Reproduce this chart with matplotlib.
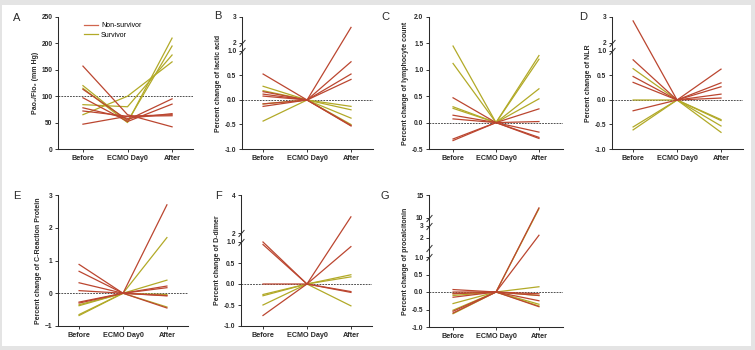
import numpy as np
import matplotlib
matplotlib.use("Agg")
import matplotlib.pyplot as plt
from matplotlib.patches import Rectangle
from matplotlib.lines import Line2D
import matplotlib.transforms as mtransforms

plt.rcParams['font.family'] = ['Liberation Sans', 'DejaVu Sans']

# Time points
timepoints = ["Before", "ECMO Day0", "After"]

# Panel A: PaO2/FiO2 (mm Hg), one row per patient (before, ECMO day0, after)
a_nonsurv = [[157, 65, 42], [113, 55, 95], [97, 52, 85],
             [78, 58, 67], [72, 62, 63], [47, 62, 65]]
a_surv = [[65, 100, 165], [120, 52, 195], [115, 50, 210], [84, 80, 178]]

# Panels B-G: percent change, value at ECMO day0 is 0
b_nonsurv_before = [0.53, 0.17, 0.12, 0.08, -0.08, -0.13]
b_nonsurv_after = [2.6, 0.78, 0.53, 0.42, -0.52, -0.53]
b_surv_before = [0.28, 0.19, -0.08, -0.43]
b_surv_after = [-0.13, -0.2, -0.37, -0.5]

c_nonsurv_before = [0.47, 0.14, 0.07, -0.31, -0.34]
c_nonsurv_after = [0.26, -0.18, -0.30, -0.28, 0.02]
c_surv_before = [1.45, 1.12, 0.30, 0.27]
c_surv_after = [1.27, 1.20, 0.64, 0.45]

d_nonsurv_before = [2.85, 0.82, 0.48, 0.36, -0.22]
d_nonsurv_after = [0.63, 0.35, 0.27, 0.12, 0.04]
d_surv_before = [0.64, 0.0, -0.55, -0.61]
d_surv_after = [-0.40, -0.42, -0.53, -0.66]

e_nonsurv_before = [0.88, 0.67, 0.32, 0.08, -0.27, -0.30]
e_nonsurv_after = [2.7, 0.22, 0.17, -0.07, -0.08, -0.45]
e_surv_before = [-0.35, -0.38, -0.65, -0.68]
e_surv_after = [1.7, 0.4, -0.04, -0.42]

f_nonsurv_before = [1.0, 0.94, 0.0, -0.75]
f_nonsurv_after = [2.85, 0.89, -0.18, -0.2]
f_surv_before = [-0.25, -0.28, -0.5]
f_surv_after = [0.22, 0.17, -0.52]

g_nonsurv_before = [0.07, -0.05, -0.15, -0.55, -0.60, 0.0]
g_nonsurv_after = [12.2, 2.2, -0.05, -0.25, -0.42, -0.1]
g_surv_before = [-0.05, -0.33, -0.52, -0.62, -0.1]
g_surv_after = [12.0, 0.15, -0.1, -0.35, -0.4]

# Y labels
ylabels = {
    "A": "Pao\u2082/Fio\u2082 (mm Hg)",
    "B": "Percent change of lactic acid",
    "C": "Percent change of lymphocyte count",
    "D": "Percent change of NLR",
    "E": "Percent change of C-Reaction Protein",
    "F": "Percent change of D-dimer",
    "G": "Percent change of procalcitonin",
}

# y ticks and labels
ticks_a = [0, 50, 100, 150, 200, 250]
ticks_bd = [-1.0, -0.5, 0.0, 0.5, 1.0, 2, 3]
labels_bd = ["-1.0", "-0.5", "0.0", "0.5", "1.0", "2", "3"]
ticks_c = [-0.5, 0.0, 0.5, 1.0, 1.5, 2.0]
ticks_e = [-1, 0, 1, 2, 3]
ticks_f = [-1.0, -0.5, 0.0, 0.5, 1.0, 2, 4]
labels_f = ["-1.0", "-0.5", "0.0", "0.5", "1.0", "2", "4"]
ticks_g = [-1.0, -0.5, 0.0, 0.5, 1.0, 2, 3, 10, 15]
labels_g = ["-1.0", "-0.5", "0.0", "0.5", "1.0", "2", "3", "10", "15"]

RED = '#bb4630'
YEL = '#b2aa28'
W, H = 755, 350

fig = plt.figure(figsize=(W / 100, H / 100), dpi=100)
fig.patch.set_facecolor('#e4e4e4')
fig.add_artist(Rectangle((2 / W, 1 - 346 / H), 749 / W, 341 / H,
                         transform=fig.transFigure, facecolor='white',
                         edgecolor='none', zorder=-10))


def add_axes(x0, x1, ytop, ybot):
    return fig.add_axes([x0 / W, 1 - ybot / H, (x1 - x0) / W, (ybot - ytop) / H])


def piecewise(xp, fp):
    xp = np.asarray(xp, float)
    fp = np.asarray(fp, float)

    def f(v):
        v = np.asarray(v, float)
        out = np.interp(v, xp, fp)
        s0 = (fp[1] - fp[0]) / (xp[1] - xp[0])
        s1 = (fp[-1] - fp[-2]) / (xp[-1] - xp[-2])
        out = np.where(v < xp[0], fp[0] + (v - xp[0]) * s0, out)
        out = np.where(v > xp[-1], fp[-1] + (v - xp[-1]) * s1, out)
        return out
    return f


def broken_scale(ax, data_knots, pix_knots):
    ax.set_yscale('function', functions=(piecewise(data_knots, pix_knots),
                                          piecewise(pix_knots, data_knots)))
    ax.set_ylim(data_knots[0], data_knots[-1])
    # slash marks at each break
    trans = mtransforms.blended_transform_factory(ax.transAxes, ax.transData)
    for y in data_knots[1:-1]:
        ax.plot([0], [y], transform=trans, marker=[(-1, -1.2), (1, 1.2)],
                markersize=5, color='#333333', mew=0.7, clip_on=False, zorder=5)


def style(ax, xlim, letter, lx, ly):
    ax.set_xlim(*xlim)
    ax.set_xticks([0, 1, 2])
    ax.set_xticklabels(timepoints, fontsize=5.2, fontweight='bold')
    for s in ['top', 'right']:
        ax.spines[s].set_visible(False)
    for s in ['left', 'bottom']:
        ax.spines[s].set_linewidth(0.75)
        ax.spines[s].set_color('#2a2a2a')
    ax.tick_params(axis='both', length=2.5, width=0.65, pad=1.5, colors='#2a2a2a')
    ax.tick_params(axis='y', labelsize=4.8)
    for t in ax.get_yticklabels():
        t.set_fontweight('bold')
    ax.set_ylabel(ylabels[letter], fontsize=5, fontweight='bold', labelpad=2,
                  color='#2a2a2a')
    fig.text(lx / W, 1 - ly / H, letter, fontsize=8, ha='center', va='center',
             color='#2a2a2a')


def draw_change(ax, nb, na, sb, sa, ref=0):
    ax.axhline(ref, color='#444444', lw=0.65, ls=(0, (2, 1.2)), zorder=1)
    for b, a in zip(sb, sa):
        ax.plot([0, 1, 2], [b, 0, a], color=YEL, lw=0.9, zorder=2)
    for b, a in zip(nb, na):
        ax.plot([0, 1, 2], [b, 0, a], color=RED, lw=0.9, zorder=3)


# A
ax = add_axes(58, 193, 17, 149)
ax.axhline(100, color='#444444', lw=0.65, ls=(0, (2, 1.2)), zorder=1)
for row in a_surv:
    ax.plot([0, 1, 2], row, color=YEL, lw=0.9, zorder=2)
for row in a_nonsurv:
    ax.plot([0, 1, 2], row, color=RED, lw=0.9, zorder=3)
ax.set_ylim(0, 250)
ax.set_yticks(ticks_a)
style(ax, (-0.56, 2.47), "A", 17, 18)
handles = [Line2D([], [], color='#d0654e', lw=0.9), Line2D([], [], color=YEL, lw=0.9)]
ax.legend(handles, ["Non-survivor", "Survivor"], loc='upper left',
          bbox_to_anchor=(0.17, 0.98), frameon=False, fontsize=5,
          handlelength=2.0, handletextpad=0.5, labelspacing=0.3, borderaxespad=0)

# B
ax = add_axes(242, 373, 17, 149)
draw_change(ax, b_nonsurv_before, b_nonsurv_after, b_surv_before, b_surv_after)
broken_scale(ax, [-1, 1, 2, 3], [0, 98, 106, 132])
ax.set_yticks(ticks_bd)
ax.set_yticklabels(labels_bd)
style(ax, (-0.48, 2.5), "B", 218, 16)

# C
ax = add_axes(429, 563, 17, 149)
draw_change(ax, c_nonsurv_before, c_nonsurv_after, c_surv_before, c_surv_after)
ax.set_ylim(-0.5, 2.0)
ax.set_yticks(ticks_c)
ax.set_yticklabels([f"{t:.1f}" for t in ticks_c])
style(ax, (-0.56, 2.56), "C", 385, 17)

# D
ax = add_axes(612, 743, 17, 149)
draw_change(ax, d_nonsurv_before, d_nonsurv_after, d_surv_before, d_surv_after)
broken_scale(ax, [-1, 1, 2, 3], [0, 98, 106, 132])
ax.set_yticks(ticks_bd)
ax.set_yticklabels(labels_bd)
style(ax, (-0.48, 2.5), "D", 583, 17)

# E
ax = add_axes(58, 188, 195, 326)
draw_change(ax, e_nonsurv_before, e_nonsurv_after, e_surv_before, e_surv_after)
ax.set_ylim(-1, 3)
ax.set_yticks(ticks_e)
style(ax, (-0.48, 2.48), "E", 17, 196)

# F
ax = add_axes(241, 372, 195, 326)
draw_change(ax, f_nonsurv_before, f_nonsurv_after, f_surv_before, f_surv_after)
broken_scale(ax, [-1, 1, 2, 4], [0, 84, 93, 131])
ax.set_yticks(ticks_f)
ax.set_yticklabels(labels_f)
style(ax, (-0.5, 2.48), "F", 218, 196)

# G
ax = add_axes(429, 563, 195, 327)
draw_change(ax, g_nonsurv_before, g_nonsurv_after, g_surv_before, g_surv_after)
broken_scale(ax, [-1, 1, 1.1, 3, 10, 15], [0, 70, 79, 101, 109, 132])
ax.set_yticks(ticks_g)
ax.set_yticklabels(labels_g)
style(ax, (-0.56, 2.56), "G", 385, 196)

fig.savefig("out.png", dpi=100, facecolor=fig.get_facecolor())
